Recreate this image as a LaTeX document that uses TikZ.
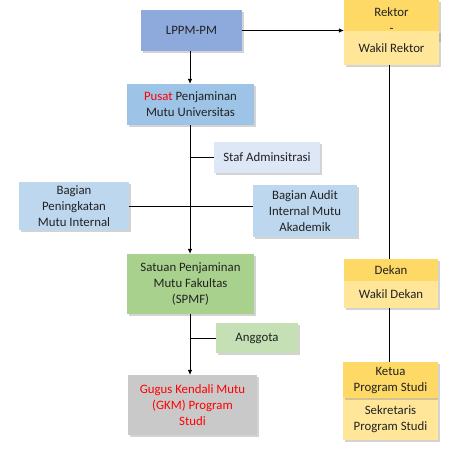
\documentclass[tikz,border=0pt]{standalone}
\usepackage{fontspec}
\setmainfont{Carlito}
\usetikzlibrary{shadows,arrows.meta}
\definecolor{cLppm}{HTML}{8EA9DB}
\definecolor{cPusat}{HTML}{9DC3E6}
\definecolor{cStaf}{HTML}{DDE7F5}
\definecolor{cBag}{HTML}{BDD7EE}
\definecolor{cSpmf}{HTML}{A9D18E}
\definecolor{cAng}{HTML}{C5E0B4}
\definecolor{cGkm}{HTML}{C9C9C9}
\definecolor{cGold}{HTML}{FFD966}
\definecolor{cLgold}{HTML}{FFE699}
\definecolor{cRed}{HTML}{FF0000}
\definecolor{cTxt}{HTML}{222222}
\begin{document}
\begin{tikzpicture}[x=1pt,y=-1pt,
  box/.style={inner sep=1pt,align=center,text=cTxt,font=\fontsize{12.8}{16}\selectfont,
    drop shadow={shadow xshift=2pt,shadow yshift=-2pt,opacity=0.35,fill=gray}},
  conn/.style={line width=0.7pt,black},
  arr/.style={conn,-{Latex[length=5pt,width=4.5pt]}}]
\useasboundingbox (0,0) rectangle (467,454);
\node[box,fill=cLppm,minimum width=101pt,minimum height=41pt] (lppm) at (191.5,30.5) {LPPM-PM};
\node[box,fill=cGold,minimum width=95pt,minimum height=40pt] (rektor) at (391.5,20) {Rektor\\-};
\node[box,fill=cLgold,minimum width=95pt,minimum height=34pt] (wrektor) at (391.5,48) {Wakil Rektor};
\node[box,fill=cPusat,minimum width=127pt,minimum height=41pt] (pusat) at (190.5,104.5) {\textcolor{cRed}{Pusat} Penjaminan\\Mutu Universitas};
\node[box,fill=cStaf,minimum width=106pt,minimum height=31pt] (staf) at (267,157.5) {Staf Adminsitrasi};
\node[box,fill=cBag,minimum width=110pt,minimum height=48pt] (bpmi) at (74,206) {Bagian\\Peningkatan\\Mutu Internal};
\node[box,fill=cBag,minimum width=104pt,minimum height=52pt] (baud) at (305,211) {Bagian Audit\\Internal Mutu\\Akademik};
\node[box,fill=cSpmf,minimum width=127pt,minimum height=60pt] (spmf) at (190.5,284) {Satuan Penjaminan\\Mutu Fakultas\\(SPMF)};
\node[box,fill=cAng,minimum width=82pt,minimum height=30pt] (ang) at (257,338) {Anggota};
\node[box,fill=cGkm,minimum width=129pt,minimum height=60pt,text=cRed] (gkm) at (192.5,405) {Gugus Kendali Mutu\\(GKM) Program\\Studi};
\node[box,fill=cGold,minimum width=94pt,minimum height=22pt] (dekan) at (391,270) {Dekan};
\node[box,fill=cLgold,minimum width=94pt,minimum height=27pt] (wdekan) at (391,294.5) {Wakil Dekan};
\node[box,fill=cLgold,minimum width=95pt,minimum height=42pt] (sek) at (390.5,419) {Sekretaris\\Program Studi};
\node[box,fill=cGold,minimum width=95pt,minimum height=36pt] (ketua) at (390.5,380) {Ketua\\Program Studi};
\coordinate (mid) at (190,0);
\coordinate (rcol) at (389,0);
\draw[arr] (lppm.east) -- (lppm.east -| rektor.west);
\draw[arr] (lppm.south -| mid) -- (pusat.north -| mid);
\draw[arr] (pusat.south -| mid) -- (spmf.north -| mid);
\draw[conn] (staf.west) -- (staf.west -| mid);
\draw[conn] (bpmi.east) -- (bpmi.east -| baud.west);
\draw[arr] (spmf.south -| mid) -- (gkm.north -| mid);
\draw[conn] (ang.west) -- (ang.west -| mid);
\draw[conn] (wrektor.south -| rcol) -- (dekan.north -| rcol);
\draw[conn] (wdekan.south -| rcol) -- (ketua.north -| rcol);
\end{tikzpicture}
\end{document}
